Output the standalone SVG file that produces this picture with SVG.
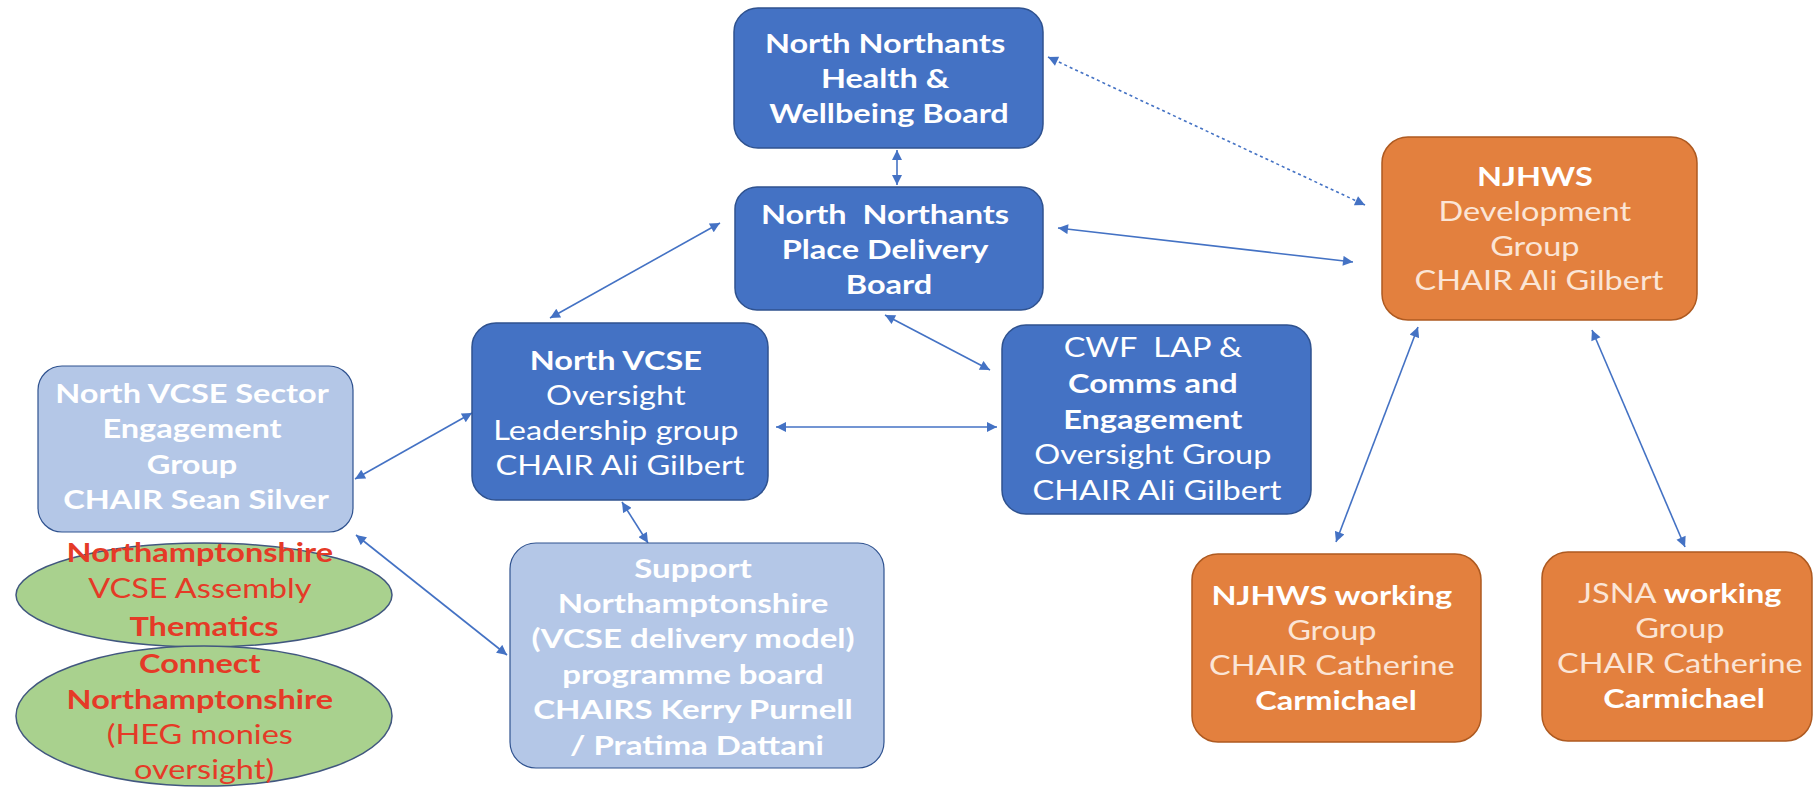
<svg xmlns="http://www.w3.org/2000/svg" width="1814" height="787" viewBox="0 0 1814 787">
<style>
.t{font-family:Lato,"Liberation Sans",sans-serif;font-size:26px;fill:#fff;text-anchor:middle}
.b{font-weight:700}
.blue{fill:#4472C4;stroke:#2F528F;stroke-width:1.5}
.lb{fill:#B4C7E7;stroke:#2F528F;stroke-width:1.2}
.or{fill:#E3803E;stroke:#AE5A21;stroke-width:1.5}
.gr{fill:#A9D18E;stroke:#41577F;stroke-width:1.5}
.cr{fill:#FBE5D6}
.red{fill:#E53A27}
.c{stroke:#4472C4;stroke-width:1.6;fill:none;marker-start:url(#a);marker-end:url(#a)}
.d{stroke-dasharray:3 3}
</style>
<defs>
<marker id="a" viewBox="0 0 10 10" refX="10" refY="5" markerWidth="11" markerHeight="10" markerUnits="userSpaceOnUse" orient="auto-start-reverse"><path d="M0,0L10,5L0,10z" fill="#4472C4"/></marker>
</defs>
<rect width="1814" height="787" fill="#fff"/>

<g id="connectors">
<line class="c" x1="897" y1="150" x2="897" y2="185"/>
<line class="c d" x1="1048" y1="57" x2="1365" y2="205"/>
<line class="c" x1="1058" y1="228" x2="1353" y2="262"/>
<line class="c" x1="720" y1="223" x2="550" y2="318"/>
<line class="c" x1="885" y1="315" x2="990" y2="370"/>
<line class="c" x1="776" y1="427" x2="997" y2="427"/>
<line class="c" x1="472" y1="413" x2="355" y2="479"/>
<line class="c" x1="622" y1="502" x2="648" y2="543"/>
<line class="c" x1="356" y1="535" x2="507" y2="655"/>
<line class="c" x1="1418" y1="327" x2="1336" y2="542"/>
<line class="c" x1="1592" y1="330" x2="1685" y2="547"/>
</g>

<g id="health-board">
<rect class="blue" x="734" y="8" width="309" height="140" rx="24"/>
<g transform="translate(889 0) scale(1.25 1)"><text class="t b">
<tspan x="0" y="53">North Northants</tspan>
<tspan x="0" y="88">Health &amp;</tspan>
<tspan x="0" y="123">Wellbeing Board</tspan>
</text></g>
</g>

<g id="place-board">
<rect class="blue" x="735" y="187" width="308" height="123" rx="22"/>
<g transform="translate(889 0) scale(1.25 1)"><text class="t b">
<tspan x="0" y="224">North&#160; Northants</tspan>
<tspan x="0" y="259">Place Delivery</tspan>
<tspan x="0" y="294">Board</tspan>
</text></g>
</g>

<g id="njhws-dev">
<rect class="or" x="1382" y="137" width="315" height="183" rx="26"/>
<g transform="translate(1539 0) scale(1.25 1)"><text class="t">
<tspan x="0" y="186" class="b">NJHWS</tspan>
<tspan x="0" y="221" class="cr">Development</tspan>
<tspan x="0" y="256" class="cr">Group</tspan>
<tspan x="0" y="290" class="cr">CHAIR Ali Gilbert</tspan>
</text></g>
</g>

<g id="north-vcse">
<rect class="blue" x="472" y="323" width="296" height="177" rx="24"/>
<g transform="translate(620 0) scale(1.25 1)"><text class="t">
<tspan x="0" y="370" class="b">North VCSE</tspan>
<tspan x="0" y="405">Oversight</tspan>
<tspan x="0" y="440">Leadership group</tspan>
<tspan x="0" y="475">CHAIR Ali Gilbert</tspan>
</text></g>
</g>

<g id="cwf-lap">
<rect class="blue" x="1002" y="325" width="309" height="189" rx="24"/>
<g transform="translate(1157 0) scale(1.25 1)"><text class="t">
<tspan x="0" y="357">CWF&#160; LAP &amp;</tspan>
<tspan x="0" y="393" class="b">Comms and</tspan>
<tspan x="0" y="429" class="b">Engagement</tspan>
<tspan x="0" y="464">Oversight Group</tspan>
<tspan x="0" y="500">CHAIR Ali Gilbert</tspan>
</text></g>
</g>

<g id="sector-engagement">
<rect class="lb" x="38" y="366" width="315" height="166" rx="24"/>
<g transform="translate(196 0) scale(1.25 1)"><text class="t b">
<tspan x="0" y="403">North VCSE Sector</tspan>
<tspan x="0" y="438">Engagement</tspan>
<tspan x="0" y="474">Group</tspan>
<tspan x="0" y="509">CHAIR Sean Silver</tspan>
</text></g>
</g>

<g id="assembly">
<ellipse class="gr" cx="204" cy="595" rx="188" ry="52"/>
<g transform="translate(204 0) scale(1.25 1)"><text class="t red">
<tspan x="0" y="562" class="b">Northamptonshire</tspan>
<tspan x="0" y="598">VCSE Assembly</tspan>
<tspan x="0" y="636" class="b">Thematics</tspan>
</text></g>
</g>

<g id="connect">
<ellipse class="gr" cx="204" cy="716" rx="188" ry="70"/>
<g transform="translate(204 0) scale(1.25 1)"><text class="t red">
<tspan x="0" y="673" class="b">Connect</tspan>
<tspan x="0" y="709" class="b">Northamptonshire</tspan>
<tspan x="0" y="744">(HEG monies</tspan>
<tspan x="0" y="779">oversight)</tspan>
</text></g>
</g>

<g id="support">
<rect class="lb" x="510" y="543" width="374" height="225" rx="26"/>
<g transform="translate(697 0) scale(1.27 1)"><text class="t b">
<tspan x="0" y="578">Support</tspan>
<tspan x="0" y="613">Northamptonshire</tspan>
<tspan x="0" y="648">(VCSE delivery model)</tspan>
<tspan x="0" y="684">programme board</tspan>
<tspan x="0" y="719">CHAIRS Kerry Purnell</tspan>
<tspan x="0" y="755">/ Pratima Dattani</tspan>
</text></g>
</g>

<g id="njhws-working">
<rect class="or" x="1192" y="554" width="289" height="188" rx="26"/>
<g transform="translate(1336 0) scale(1.25 1)"><text class="t">
<tspan x="0" y="605" class="b">NJHWS working</tspan>
<tspan x="0" y="640" class="cr">Group</tspan>
<tspan x="0" y="675" class="cr">CHAIR Catherine</tspan>
<tspan x="0" y="710" class="b">Carmichael</tspan>
</text></g>
</g>

<g id="jsna-working">
<rect class="or" x="1542" y="552" width="270" height="189" rx="26"/>
<g transform="translate(1684 0) scale(1.25 1)"><text class="t">
<tspan x="0" y="603"><tspan class="cr">JSNA </tspan><tspan class="b">working</tspan></tspan>
<tspan x="0" y="638" class="cr">Group</tspan>
<tspan x="0" y="673" class="cr">CHAIR Catherine</tspan>
<tspan x="0" y="708" class="b">Carmichael</tspan>
</text></g>
</g>
</svg>
